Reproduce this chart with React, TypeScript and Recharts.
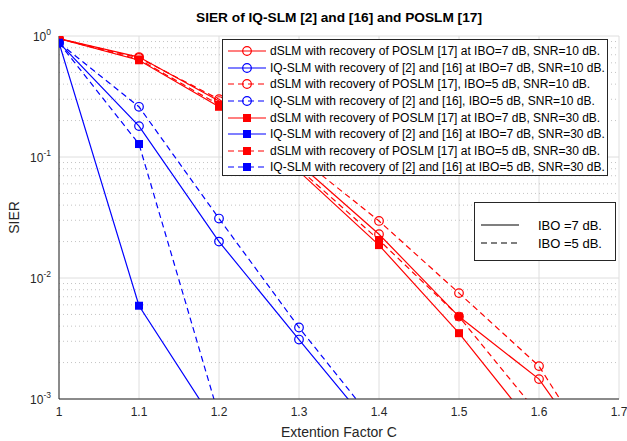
import React from 'react';
import { LineChart, Line, XAxis, YAxis, CartesianGrid, ReferenceLine } from 'recharts';

const extensionFactor = [1, 1.1, 1.2, 1.3, 1.4, 1.5, 1.6, 1.7];
const xTicks = [1, 1.1, 1.2, 1.3, 1.4, 1.5, 1.6, 1.7];
const yMajorTicks = [0.001, 0.01, 0.1, 1];
const yMinorTicks = [
  0.002, 0.003, 0.004, 0.005, 0.006, 0.007, 0.008, 0.009,
  0.02, 0.03, 0.04, 0.05, 0.06, 0.07, 0.08, 0.09,
  0.2, 0.3, 0.4, 0.5, 0.6, 0.7, 0.8, 0.9,
];

// values, below 1e-3 only to carry the line to the bottom edge
const dslmIbo7Snr10 = [0.95, 0.67, 0.29, 0.088, 0.023, 0.0048, 0.00146, 0.00017];
const iqIbo7Snr10 = [0.88, 0.18, 0.02, 0.0031, 0.00049, null, null, null];
const dslmIbo5Snr10 = [0.95, 0.66, 0.3, 0.1, 0.0296, 0.0075, 0.00187, 0.00017];
const iqIbo5Snr10 = [0.88, 0.26, 0.031, 0.0039, 0.00058, null, null, null];
const dslmIbo7Snr30 = [0.95, 0.63, 0.26, 0.076, 0.0187, 0.0035, 0.00052, null];
const iqIbo7Snr30 = [0.88, 0.0059, 0.00056, null, null, null, null, null];
const dslmIbo5Snr30 = [0.95, 0.64, 0.27, 0.08, 0.0206, 0.0048, 0.00074, null];
const iqIbo5Snr30 = [0.88, 0.128, 0.00072, null, null, null, null, null];

const RED = '#ff0000';
const BLUE = '#0000ff';
const AXIS = '#262626';
const FONT = "'Liberation Sans', Arial, Helvetica, sans-serif";

type Series = {
  key: string;
  name: string;
  color: string;
  dashed: boolean;
  marker: 'circle' | 'square';
  values: (number | null)[];
};

const series: Series[] = [
  { key: 's1', name: 'dSLM with recovery of POSLM [17] at IBO=7 dB, SNR=10 dB.', color: RED, dashed: false, marker: 'circle', values: dslmIbo7Snr10 },
  { key: 's2', name: 'IQ-SLM with recovery of [2] and [16] at IBO=7 dB, SNR=10 dB.', color: BLUE, dashed: false, marker: 'circle', values: iqIbo7Snr10 },
  { key: 's3', name: 'dSLM with recovery of POSLM [17], IBO=5 dB, SNR=10 dB.', color: RED, dashed: true, marker: 'circle', values: dslmIbo5Snr10 },
  { key: 's4', name: 'IQ-SLM with recovery of [2] and [16], IBO=5 dB, SNR=10 dB.', color: BLUE, dashed: true, marker: 'circle', values: iqIbo5Snr10 },
  { key: 's5', name: 'dSLM with recovery of POSLM [17] at IBO=7 dB, SNR=30 dB.', color: RED, dashed: false, marker: 'square', values: dslmIbo7Snr30 },
  { key: 's6', name: 'IQ-SLM with recovery of [2] and [16] at IBO=7 dB, SNR=30 dB.', color: BLUE, dashed: false, marker: 'square', values: iqIbo7Snr30 },
  { key: 's7', name: 'dSLM with recovery of POSLM [17] at IBO=5 dB, SNR=30 dB.', color: RED, dashed: true, marker: 'square', values: dslmIbo5Snr30 },
  { key: 's8', name: 'IQ-SLM with recovery of [2] and [16] at IBO=5 dB, SNR=30 dB.', color: BLUE, dashed: true, marker: 'square', values: iqIbo5Snr30 },
];

const rows = extensionFactor.map((x, i) => {
  const row: Record<string, number | null> = { x };
  series.forEach((s) => {
    row[s.key] = s.values[i];
  });
  return row;
});

const DASH = '6 4';

const squareDot = (color: string) => (props: any) => {
  const { cx, cy, index } = props;
  if (cx == null || cy == null) return <g key={index} />;
  return <rect key={index} x={cx - 4} y={cy - 4} width={8} height={8} fill={color} />;
};

const PowerTick = (props: any) => {
  const { x, y, payload } = props;
  const exp = Math.round(Math.log10(payload.value));
  return (
    <text x={x} y={y} dy={4.5} textAnchor="end" fontSize={12} fill={AXIS} fontFamily={FONT}>
      10
      <tspan dy={-6} fontSize={8.5}>
        {exp}
      </tspan>
    </text>
  );
};

const Sample = ({ color, dashed, marker }: { color: string; dashed: boolean; marker?: 'circle' | 'square' }) => (
  <svg width={40} height={12} style={{ display: 'block' }}>
    <line x1={1} y1={6} x2={39} y2={6} stroke={color} strokeWidth={1.2} strokeDasharray={dashed ? DASH : undefined} />
    {marker === 'circle' && <circle cx={20} cy={6} r={4.3} fill="none" stroke={color} strokeWidth={1.2} />}
    {marker === 'square' && <rect x={16} y={2} width={8} height={8} fill={color} />}
  </svg>
);

const logAxis = {
  scale: 'log' as const,
  domain: [0.001, 1] as [number, number],
  allowDataOverflow: true,
  type: 'number' as const,
};

const xAxisBase = {
  dataKey: 'x',
  type: 'number' as const,
  domain: [1, 1.7] as [number, number],
  allowDataOverflow: true,
  ticks: xTicks,
};

export default function App() {
  return (
    <div style={{ position: 'relative', width: 627, height: 441, background: '#fff', fontFamily: FONT }}>
      <style>{'body{margin:0;}'}</style>
      <div
        style={{
          position: 'absolute',
          left: 59,
          width: 560,
          top: 10,
          textAlign: 'center',
          fontWeight: 'bold',
          fontSize: 13.7,
          lineHeight: '16px',
          color: '#000',
        }}
      >
        SIER of IQ-SLM [2] and [16] and POSLM [17]
      </div>
      <LineChart width={627} height={441} data={rows} margin={{ top: 36, right: 8, bottom: 0, left: 0 }} style={{ fontFamily: FONT }}>
        <CartesianGrid stroke="#dedede" strokeWidth={1} />
        {yMinorTicks.map((v) => (
          <ReferenceLine key={v} y={v} stroke="#c4c4c4" strokeDasharray="1 3" strokeWidth={1} />
        ))}
        <XAxis
          {...xAxisBase}
          height={42}
          stroke={AXIS}
          tickLine={false}
          tick={{ fill: AXIS, fontSize: 12 }}
          tickFormatter={(v: number) => String(v)}
          label={{ value: 'Extention Factor C', position: 'insideBottom', offset: 4, fill: AXIS, fontSize: 14 }}
        />
        <XAxis {...xAxisBase} xAxisId="bt" mirror height={0} stroke={AXIS} axisLine={false} tickSize={5} tick={false} />
        <XAxis {...xAxisBase} xAxisId="top" orientation="top" mirror height={0} stroke={AXIS} tickSize={5} tick={false} />
        <YAxis
          {...logAxis}
          width={59}
          ticks={yMajorTicks}
          stroke={AXIS}
          tickLine={false}
          tick={<PowerTick />}
          label={{ value: 'SIER', angle: -90, position: 'insideLeft', offset: 14, fill: AXIS, fontSize: 14, style: { textAnchor: 'middle' } }}
        />
        <YAxis {...logAxis} yAxisId="lmaj" mirror width={0} ticks={yMajorTicks} stroke={AXIS} axisLine={false} tickSize={5} tick={false} />
        <YAxis {...logAxis} yAxisId="lmin" mirror width={0} ticks={yMinorTicks} stroke={AXIS} axisLine={false} tickSize={3} tick={false} />
        <YAxis {...logAxis} yAxisId="rmaj" orientation="right" mirror width={0} ticks={yMajorTicks} stroke={AXIS} tickSize={5} tick={false} />
        <YAxis {...logAxis} yAxisId="rmin" orientation="right" mirror width={0} ticks={yMinorTicks} stroke={AXIS} axisLine={false} tickSize={3} tick={false} />
        {series.map((s) => (
          <Line
            key={s.key}
            dataKey={s.key}
            name={s.name}
            type="linear"
            stroke={s.color}
            strokeWidth={1.2}
            strokeDasharray={s.dashed ? DASH : undefined}
            dot={
              s.marker === 'circle'
                ? { r: 4.3, fill: 'none', stroke: s.color, strokeWidth: 1.2, strokeDasharray: 'none' }
                : squareDot(s.color)
            }
            activeDot={false}
            isAnimationActive={false}
          />
        ))}
      </LineChart>
      <div
        style={{
          position: 'absolute',
          left: 222,
          top: 39,
          width: 386,
          height: 137,
          background: '#fff',
          border: `1px solid ${AXIS}`,
          paddingTop: 3,
          boxSizing: 'border-box',
        }}
      >
        {series.map((s) => (
          <div key={s.key} style={{ display: 'flex', alignItems: 'center', height: 16.6, fontSize: 12, color: '#000', whiteSpace: 'nowrap' }}>
            <div style={{ marginLeft: 4, marginRight: 3 }}>
              <Sample color={s.color} dashed={s.dashed} marker={s.marker} />
            </div>
            <span>{s.name}</span>
          </div>
        ))}
      </div>
      <div
        style={{
          position: 'absolute',
          left: 474,
          top: 202,
          width: 142,
          height: 59,
          background: '#fff',
          border: `1px solid ${AXIS}`,
          boxSizing: 'border-box',
          paddingTop: 13,
        }}
      >
        {[
          { label: 'IBO =7 dB.', dashed: false },
          { label: 'IBO =5 dB.', dashed: true },
        ].map((r) => (
          <div key={r.label} style={{ display: 'flex', alignItems: 'center', height: 18, fontSize: 13, color: '#000' }}>
            <div style={{ marginLeft: 5, marginRight: 18 }}>
              <Sample color="#000" dashed={r.dashed} />
            </div>
            <span>{r.label}</span>
          </div>
        ))}
      </div>
    </div>
  );
}
